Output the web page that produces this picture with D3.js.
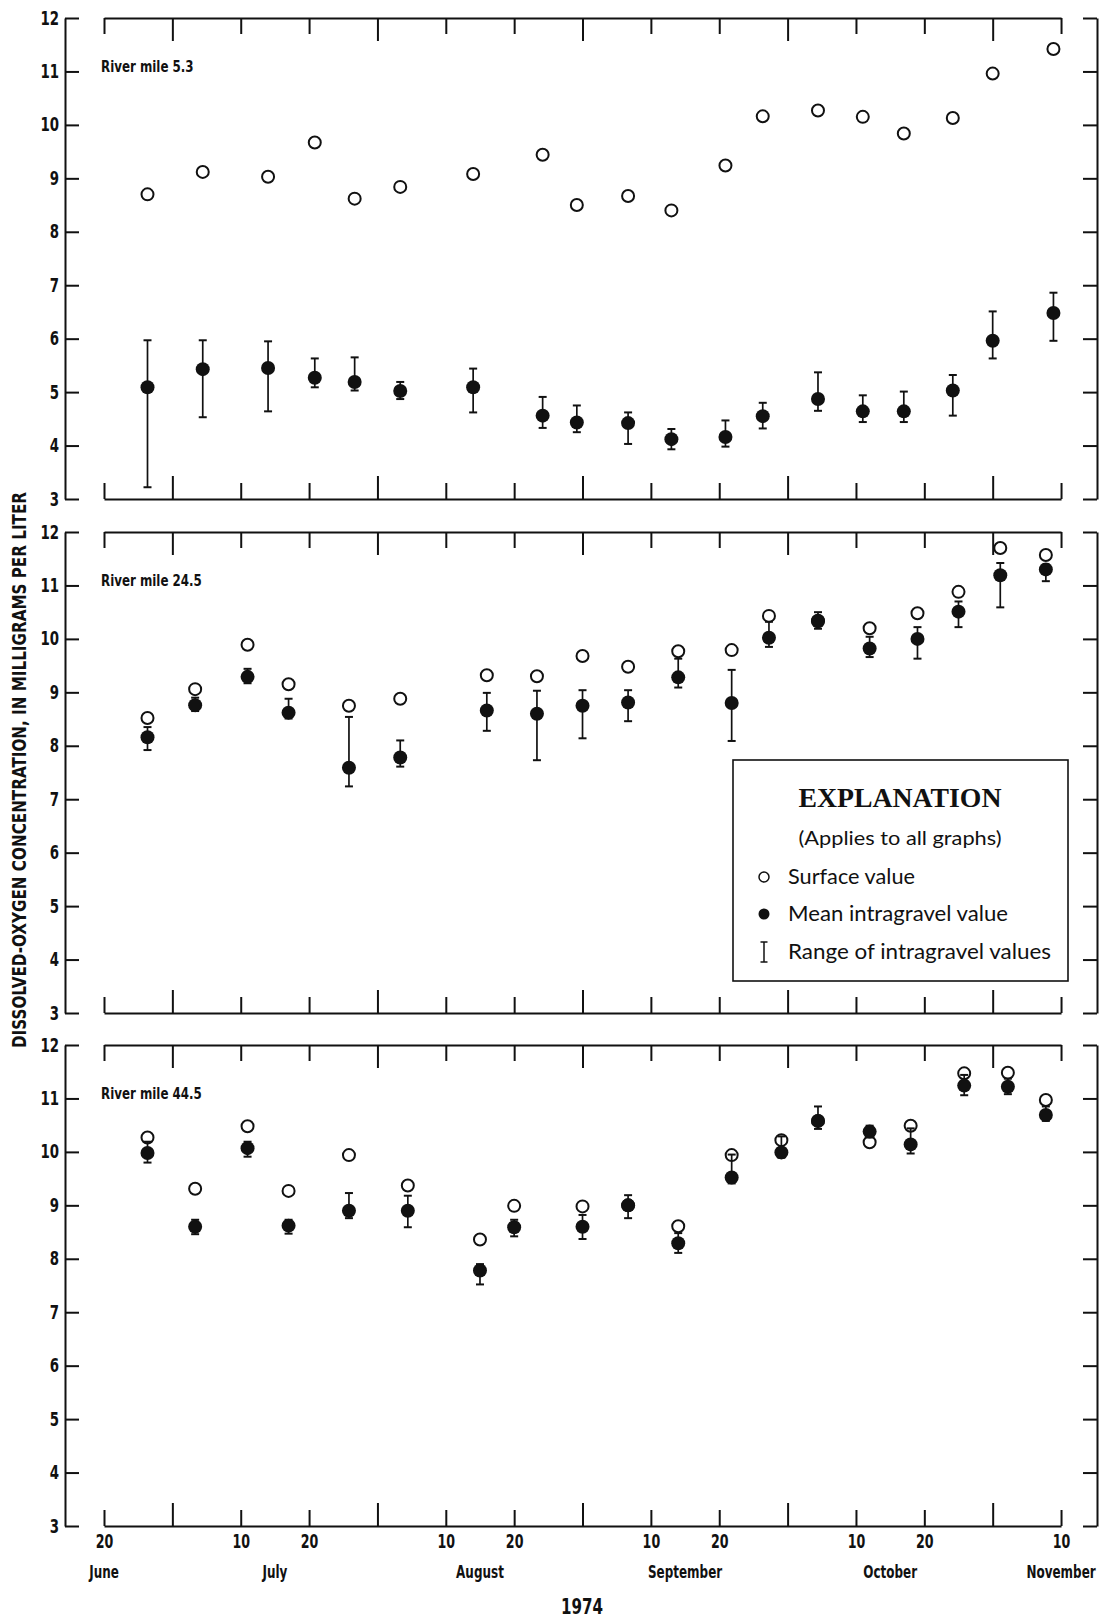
<!DOCTYPE html>
<html>
<head>
<meta charset="utf-8">
<script src="https://cdn.jsdelivr.net/npm/d3@7/dist/d3.min.js"></script>
<style>
  body { margin: 0; background: #fff; }
  svg { display: block; }
  .cond { font-family: "Liberation Sans Narrow", "DejaVu Sans Condensed", "DejaVu Sans", sans-serif; font-weight: bold; fill: #111; }
  .axis path, .axis line { stroke: #111; stroke-width: 2; }
  .axis text { font-family: "Liberation Sans Narrow", "DejaVu Sans Condensed", "DejaVu Sans", sans-serif; font-weight: bold; font-size: 19px; fill: #111; }
  .legend text { font-family: Lato, "Open Sans", sans-serif; fill: #111; }
</style>
</head>
<body>
<svg id="chart" width="1099" height="1619"></svg>
<script>
// tick dates along the time axis (the graph spaces them evenly)
var tickDates = ["1974-06-20", "1974-07-01", "1974-07-10", "1974-07-20", "1974-08-01",
  "1974-08-10", "1974-08-20", "1974-09-01", "1974-09-10", "1974-09-20", "1974-10-01",
  "1974-10-10", "1974-10-20", "1974-11-01", "1974-11-10"];
var monthStarts = ["1974-07-01", "1974-08-01", "1974-09-01", "1974-10-01", "1974-11-01"];
var monthLabels = ["June", "July", "August", "September", "October", "November"];
var monthLabelDates = ["1974-06-20", "1974-07-15", "1974-08-15", "1974-09-15", "1974-10-15", "1974-11-10"];
var yTicks = [3, 4, 5, 6, 7, 8, 9, 10, 11, 12];

// River mile 5.3
var rm53Dates = ["1974-06-27", "1974-07-05", "1974-07-14", "1974-07-21", "1974-07-28", "1974-08-04",
  "1974-08-14", "1974-08-25", "1974-08-31", "1974-09-07", "1974-09-13", "1974-09-21", "1974-09-27",
  "1974-10-05", "1974-10-11", "1974-10-17", "1974-10-25", "1974-11-01", "1974-11-09"];
var rm53Surface = [8.70, 9.12, 9.03, 9.67, 8.62, 8.84, 9.08, 9.44, 8.50, 8.67, 8.40, 9.24, 10.16, 10.27, 10.15, 9.84, 10.13, 10.96, 11.42];
var rm53Mean = [5.09, 5.43, 5.45, 5.27, 5.19, 5.02, 5.09, 4.56, 4.43, 4.42, 4.12, 4.16, 4.55, 4.87, 4.64, 4.64, 5.03, 5.96, 6.48];
var rm53Low = [3.22, 4.53, 4.64, 5.09, 5.03, 4.87, 4.62, 4.33, 4.25, 4.03, 3.93, 3.98, 4.32, 4.65, 4.44, 4.44, 4.56, 5.63, 5.96];
var rm53High = [5.97, 5.97, 5.95, 5.63, 5.65, 5.19, 5.44, 4.91, 4.75, 4.62, 4.31, 4.47, 4.80, 5.37, 4.94, 5.01, 5.32, 6.51, 6.86];

// River mile 24.5
var rm245Dates = ["1974-06-27", "1974-07-04", "1974-07-11", "1974-07-17", "1974-07-27", "1974-08-04",
  "1974-08-16", "1974-08-24", "1974-09-01", "1974-09-07", "1974-09-14", "1974-09-22", "1974-09-28",
  "1974-10-05", "1974-10-12", "1974-10-19", "1974-10-26", "1974-11-02", "1974-11-08"];
var rm245Surface = [8.52, 9.06, 9.89, 9.15, 8.75, 8.88, 9.32, 9.30, 9.68, 9.48, 9.77, 9.79, 10.43, 10.34, 10.20, 10.48, 10.88, 11.70, 11.57];
var rm245Mean = [8.16, 8.76, 9.29, 8.62, 7.59, 7.78, 8.66, 8.60, 8.75, 8.81, 9.28, 8.80, 10.02, 10.33, 9.82, 10.00, 10.51, 11.19, 11.30];
var rm245Low = [7.92, 8.65, 9.17, 8.51, 7.24, 7.61, 8.28, 7.73, 8.14, 8.46, 9.09, 8.09, 9.85, 10.19, 9.66, 9.63, 10.22, 10.59, 11.08];
var rm245High = [8.35, 8.90, 9.44, 8.88, 8.54, 8.10, 8.99, 9.03, 9.04, 9.04, 9.63, 9.42, 10.32, 10.50, 10.04, 10.22, 10.70, 11.42, 11.39];

// River mile 44.5
var rm445Dates = ["1974-06-27", "1974-07-04", "1974-07-11", "1974-07-17", "1974-07-27", "1974-08-05",
  "1974-08-15", "1974-08-20", "1974-09-01", "1974-09-07", "1974-09-14", "1974-09-22", "1974-09-30",
  "1974-10-05", "1974-10-12", "1974-10-18", "1974-10-27", "1974-11-03", "1974-11-08"];
var rm445Surface = [10.27, 9.31, 10.48, 9.27, 9.94, 9.37, 8.36, 8.99, 8.98, 9.00, 8.61, 9.94, 10.22, 10.58, 10.18, 10.49, 11.47, 11.48, 10.97];
var rm445Mean = [9.98, 8.60, 10.07, 8.62, 8.90, 8.90, 7.78, 8.59, 8.60, 9.00, 8.29, 9.52, 9.99, 10.58, 10.38, 10.14, 11.24, 11.22, 10.69];
var rm445Low = [9.80, 8.46, 9.91, 8.47, 8.76, 8.59, 7.52, 8.42, 8.37, 8.76, 8.11, 9.41, 9.89, 10.43, 10.27, 9.97, 11.06, 11.08, 10.58];
var rm445High = [10.19, 8.73, 10.19, 8.73, 9.23, 9.18, 7.90, 8.73, 8.82, 9.19, 8.48, 9.95, 10.29, 10.85, 10.49, 10.44, 11.44, 11.37, 10.85];

var panels = [
  { label: "River mile 5.3", dates: rm53Dates, surface: rm53Surface, mean: rm53Mean, low: rm53Low, high: rm53High },
  { label: "River mile 24.5", dates: rm245Dates, surface: rm245Surface, mean: rm245Mean, low: rm245Low, high: rm245High },
  { label: "River mile 44.5", dates: rm445Dates, surface: rm445Surface, mean: rm445Mean, low: rm445Low, high: rm445High }
];

var parseDate = d3.timeParse("%Y-%m-%d");
var svg = d3.select("#chart");

var left = 65, plotW = 1032, plotH = 481;
var panelTops = [18, 532, 1045];
var firstTick = 39, tickStep = 68.36;
var squeeze = 0.78; // the printed lettering is a condensed face

var ticks = tickDates.map(parseDate);
var isMonthStart = function (d) { return monthStarts.indexOf(d3.timeFormat("%Y-%m-%d")(d)) >= 0; };
var minorTicks = ticks.filter(function (d) { return !isMonthStart(d); });
var majorTicks = ticks.filter(isMonthStart);

// piecewise time scale: every tick date sits one even step from the next
var x = d3.scaleTime()
  .domain(ticks)
  .range(ticks.map(function (d, i) { return firstTick + i * tickStep; }));

var y = d3.scaleLinear().domain([3, 12]).range([plotH, 0]);

panels.forEach(function (p, pi) {
  var g = svg.append("g").attr("transform", "translate(" + left + "," + panelTops[pi] + ")");
  var last = pi === panels.length - 1;

  // frame with inward ticks
  g.append("g").attr("class", "axis")
    .call(d3.axisLeft(y).tickValues(yTicks).tickSizeInner(-14).tickSizeOuter(0).tickPadding(6 / squeeze))
    .selectAll("text").attr("transform", "scale(" + squeeze + ",1)");
  g.append("g").attr("class", "axis").attr("transform", "translate(" + plotW + ",0)")
    .call(d3.axisRight(y).tickValues(yTicks).tickSizeInner(-14).tickSizeOuter(0).tickFormat(""));
  g.append("g").attr("class", "axis")
    .call(d3.axisTop(x).tickValues(minorTicks).tickSizeInner(-16).tickSizeOuter(0).tickFormat(""));
  g.append("g").attr("class", "axis")
    .call(d3.axisTop(x).tickValues(majorTicks).tickSizeInner(-23).tickSizeOuter(0).tickFormat(""))
    .select(".domain").remove();
  g.append("g").attr("class", "axis").attr("transform", "translate(0," + plotH + ")")
    .call(d3.axisBottom(x).tickValues(minorTicks).tickSizeInner(-16).tickSizeOuter(0).tickPadding(9)
      .tickFormat(last ? d3.timeFormat("%-d") : ""))
    .selectAll("text").attr("transform", "scale(0.74,1)");
  g.append("g").attr("class", "axis").attr("transform", "translate(0," + plotH + ")")
    .call(d3.axisBottom(x).tickValues(majorTicks).tickSizeInner(-23).tickSizeOuter(0).tickFormat(""))
    .select(".domain").remove();

  g.append("text").attr("class", "cond")
    .attr("transform", "translate(36," + (y(11) + 1) + ") scale(0.88,1)")
    .style("font-size", "15px")
    .text(p.label);

  var rows = p.dates.map(function (d, i) {
    return { date: parseDate(d), surface: p.surface[i], mean: p.mean[i], low: p.low[i], high: p.high[i] };
  });

  // range of intragravel values
  var rng = g.append("g").attr("stroke", "#111").attr("stroke-width", 1.7);
  rng.selectAll("line.stem").data(rows).enter().append("line").attr("class", "stem")
    .attr("x1", function (d) { return x(d.date); }).attr("x2", function (d) { return x(d.date); })
    .attr("y1", function (d) { return y(d.low); }).attr("y2", function (d) { return y(d.high); });
  ["low", "high"].forEach(function (k) {
    rng.selectAll("line.cap-" + k).data(rows).enter().append("line").attr("class", "cap-" + k)
      .attr("stroke-width", 2)
      .attr("x1", function (d) { return x(d.date) - 4; }).attr("x2", function (d) { return x(d.date) + 4; })
      .attr("y1", function (d) { return y(d[k]); }).attr("y2", function (d) { return y(d[k]); });
  });

  // surface value
  g.selectAll("circle.surface").data(rows).enter().append("circle").attr("class", "surface")
    .attr("cx", function (d) { return x(d.date); }).attr("cy", function (d) { return y(d.surface); })
    .attr("r", 6).attr("fill", "none").attr("stroke", "#111").attr("stroke-width", 2);

  // mean intragravel value
  g.selectAll("circle.mean").data(rows).enter().append("circle").attr("class", "mean")
    .attr("cx", function (d) { return x(d.date); }).attr("cy", function (d) { return y(d.mean); })
    .attr("r", 7).attr("fill", "#111");

  if (pi === 1) {
    // explanation box
    var lg = g.append("g").attr("class", "legend").attr("transform", "translate(668,228)");
    lg.append("rect").attr("width", 335).attr("height", 221)
      .attr("fill", "#fff").attr("stroke", "#111").attr("stroke-width", 1.6);
    lg.append("text").attr("x", 167).attr("y", 47)
      .attr("text-anchor", "middle")
      .style("font-family", "'Liberation Serif', serif").style("font-weight", "bold").style("font-size", "27px")
      .attr("textLength", 203).attr("lengthAdjust", "spacingAndGlyphs")
      .text("EXPLANATION");
    lg.append("text").attr("x", 167).attr("y", 85).attr("text-anchor", "middle")
      .style("font-size", "19px")
      .attr("textLength", 203).attr("lengthAdjust", "spacingAndGlyphs")
      .text("(Applies to all graphs)");
    var items = ["Surface value", "Mean intragravel value", "Range of intragravel values"];
    var itemWidths = [127, 220, 263];
    var rowsY = [117, 154, 192];
    items.forEach(function (t, i) {
      lg.append("text").attr("x", 55).attr("y", rowsY[i] + 7).style("font-size", "21px")
        .attr("textLength", itemWidths[i]).attr("lengthAdjust", "spacingAndGlyphs")
        .text(t);
    });
    lg.append("circle").attr("cx", 31).attr("cy", rowsY[0]).attr("r", 5)
      .attr("fill", "none").attr("stroke", "#111").attr("stroke-width", 1.5);
    lg.append("circle").attr("cx", 31).attr("cy", rowsY[1]).attr("r", 5.5).attr("fill", "#111");
    var ib = lg.append("g").attr("stroke", "#111").attr("stroke-width", 1.5);
    ib.append("line").attr("x1", 31).attr("x2", 31).attr("y1", rowsY[2] - 10).attr("y2", rowsY[2] + 10);
    ib.append("line").attr("x1", 27.5).attr("x2", 34.5).attr("y1", rowsY[2] - 10).attr("y2", rowsY[2] - 10);
    ib.append("line").attr("x1", 27.5).attr("x2", 34.5).attr("y1", rowsY[2] + 10).attr("y2", rowsY[2] + 10);
  }

  if (last) {
    g.selectAll("text.month").data(monthLabels).enter().append("text").attr("class", "cond month")
      .attr("transform", function (d, i) {
        return "translate(" + x(parseDate(monthLabelDates[i])) + "," + (plotH + 52) + ") scale(0.74,1)";
      })
      .attr("text-anchor", "middle").style("font-size", "18px")
      .text(function (d) { return d; });
  }
});

svg.append("text").attr("class", "cond")
  .attr("transform", "translate(582,1614) scale(0.8,1)").attr("text-anchor", "middle")
  .style("font-size", "21px").text("1974");

svg.append("text").attr("class", "cond")
  .attr("transform", "translate(26,770) rotate(-90)")
  .attr("text-anchor", "middle")
  .style("font-size", "20px")
  .attr("textLength", 556).attr("lengthAdjust", "spacingAndGlyphs")
  .text("DISSOLVED-OXYGEN CONCENTRATION, IN MILLIGRAMS PER LITER");
</script>
</body>
</html>
